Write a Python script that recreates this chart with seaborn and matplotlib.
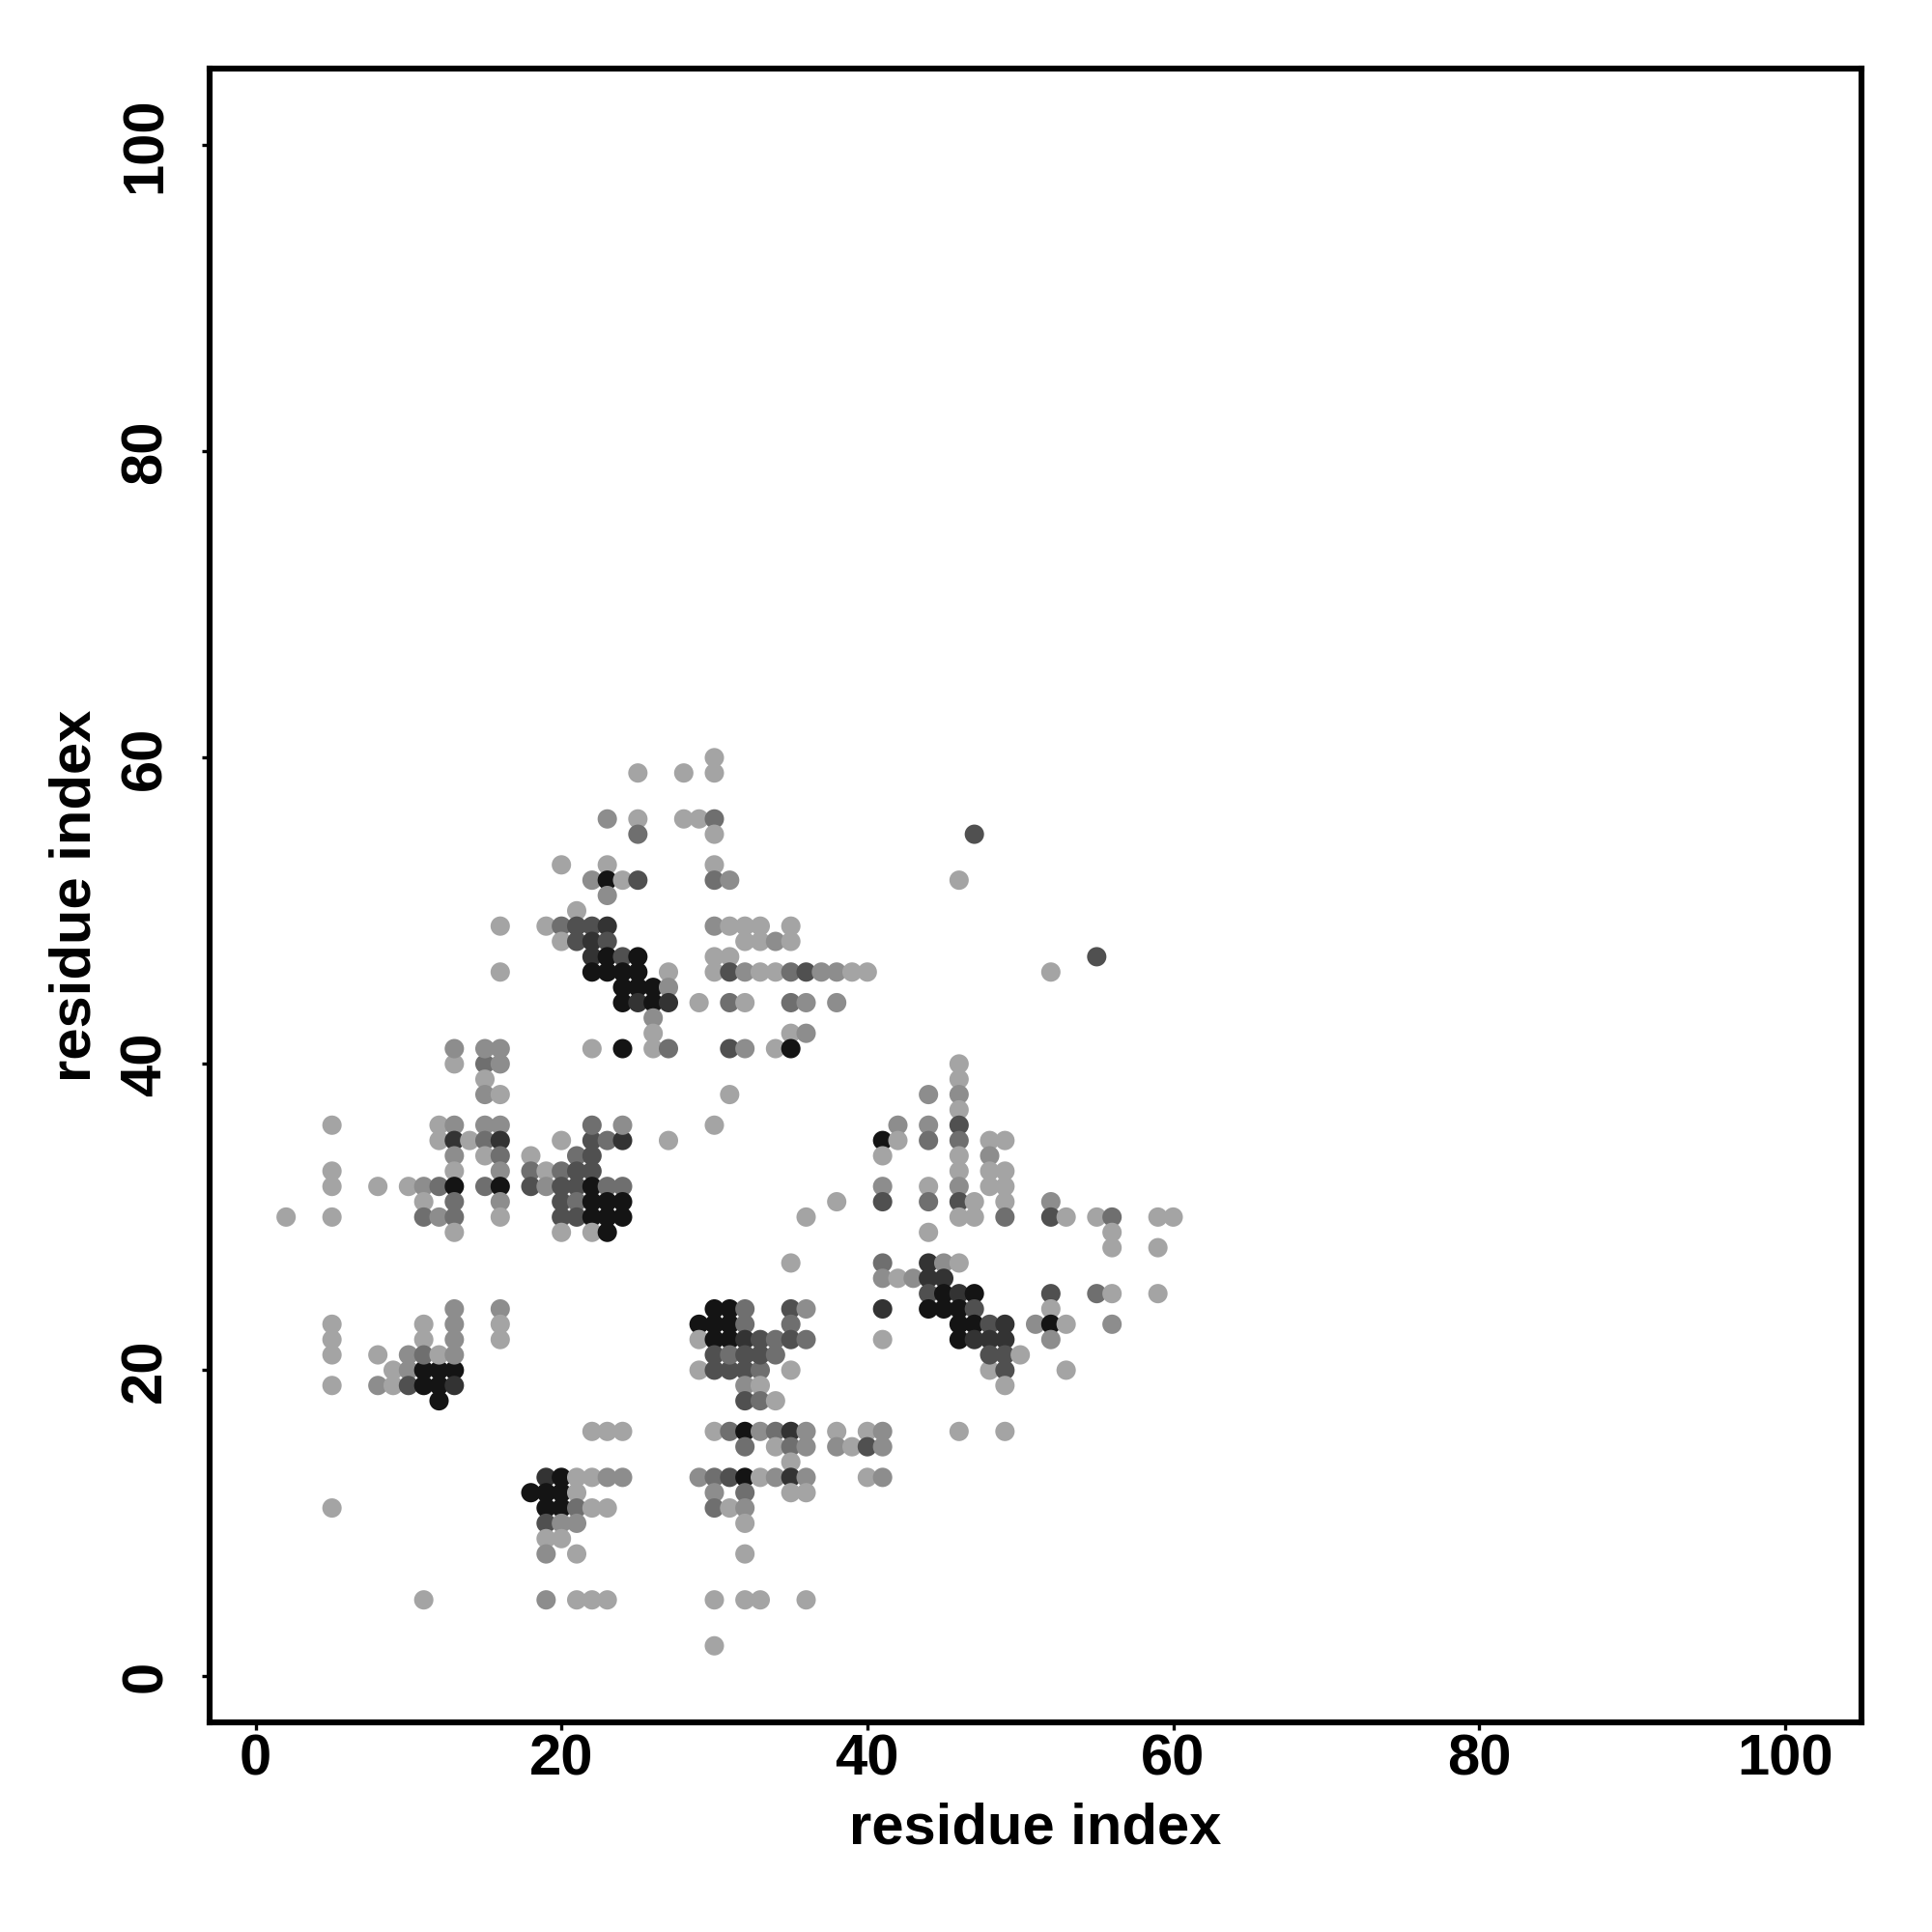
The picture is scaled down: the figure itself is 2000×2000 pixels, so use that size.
import matplotlib
matplotlib.use("Agg")
import matplotlib.pyplot as plt
import seaborn as sns
import pandas as pd

# residue i (x), residue j (y), contact strength level (1 = weak/light ... 6 = strong/black)
res_i = [
    9, 10, 11, 12, 13,
    5, 8, 9, 10, 11, 12, 13,
    12, 18, 5, 11,
    29, 30, 31, 32, 33, 35,
    32, 33,
    32, 33, 34,
    22, 23, 24, 30, 31, 32, 33, 34, 35, 36, 38,
    32, 34, 35, 36, 38, 39,
    35,
    19, 20, 21, 22, 23, 24, 29, 30, 31, 32, 33, 34, 35, 36,
    19, 20, 21, 30, 32, 35, 36,
    19, 20, 21, 22, 23, 30, 31, 32,
    19, 20, 21, 32,
    19, 20,
    19, 21, 32,
    19, 21, 22, 23, 30, 32, 33, 36,
    30,
    48, 49, 53, 49,
    40, 41, 46, 49,
    40, 41,
    40, 41,
    # y 21..40, x < 19
    13, 15, 16,
    15,
    15, 16,
    5, 12, 13, 15, 16,
    12, 13, 14, 15, 16,
    13, 15, 16, 18,
    5, 13, 16, 18,
    5, 8, 10, 11, 12, 13, 15, 16, 18,
    11, 13, 16,
    2, 5, 11, 12, 13, 16,
    13,
    13, 16,
    5, 11, 13, 16,
    5, 11, 13, 16,
    5, 8, 10, 11, 12, 13,
    # y 21..40, x 19..39
    20, 22, 23, 24, 27,
    22, 24, 30,
    31,
    21, 22,
    19, 20, 21, 22,
    19, 20, 21, 22, 23, 24,
    20, 21, 22, 23, 24, 38,
    20, 21, 22, 23, 24, 36,
    20, 22, 23,
    35,
    30, 31, 32, 35, 36,
    29, 30, 31, 32, 35,
    29, 30, 31, 32, 33, 34, 35, 36,
    30, 31, 32, 33, 34,
    # y 21..40, x >= 40
    46, 46,
    44, 46,
    46,
    42, 44, 46,
    41, 42, 44, 46, 48, 49,
    41, 46, 48,
    46, 48, 49,
    41, 44, 46, 48, 49,
    41, 44, 46, 47, 49, 52,
    46, 47, 49, 52, 53, 55, 56, 59, 60,
    44, 56,
    56, 59,
    41, 44, 45, 46,
    41, 42, 43, 44, 45,
    44, 45, 46, 47, 52, 55, 56, 59,
    41, 44, 45, 46, 47, 52,
    46, 47, 48, 49, 51, 52, 53, 56,
    41, 46, 47, 48, 49, 52,
    48, 49, 50,
    # y 41..60
    16, 16,
    13, 15, 16,
    30,
    25, 28, 30,
    23, 25, 28, 29, 30,
    25, 30,
    20, 23, 30,
    22, 23, 24, 25, 30, 31,
    23,
    21,
    19, 20, 21, 22, 23, 30, 31, 32, 33, 35,
    20, 21, 22, 23, 32, 33, 34, 35,
    22, 23, 24, 25, 30, 31,
    22, 23, 24, 25, 27, 30, 31, 32, 33, 34, 35, 36, 37, 38, 39, 40,
    24, 25, 26, 27,
    24, 25, 26, 27, 29, 31, 32, 35, 36, 38,
    26,
    26, 35, 36,
    22, 24, 26, 27, 31, 32, 34, 35,
    47, 46, 55, 52,
]

res_j = [
    20, 20, 20, 20, 20,
    19, 19, 19, 19, 19, 19, 19,
    18, 12, 11, 5,
    20, 20, 20, 20, 20, 20,
    19, 19,
    18, 18, 18,
    16, 16, 16, 16, 16, 16, 16, 16, 16, 16, 16,
    15, 15, 15, 15, 15, 15,
    14,
    13, 13, 13, 13, 13, 13, 13, 13, 13, 13, 13, 13, 13, 13,
    12, 12, 12, 12, 12, 12, 12,
    11, 11, 11, 11, 11, 11, 11, 11,
    10, 10, 10, 10,
    9, 9,
    8, 8, 8,
    5, 5, 5, 5, 5, 5, 5, 5,
    2,
    20, 20, 20, 19,
    16, 16, 16, 16,
    15, 15,
    13, 13,
    # y 21..40, x < 19
    40, 40, 40,
    39,
    38, 38,
    36, 36, 36, 36, 36,
    35, 35, 35, 35, 35,
    34, 34, 34, 34,
    33, 33, 33, 33,
    32, 32, 32, 32, 32, 32, 32, 32, 32,
    31, 31, 31,
    30, 30, 30, 30, 30, 30,
    29,
    24, 24,
    23, 23, 23, 23,
    22, 22, 22, 22,
    21, 21, 21, 21, 21, 21,
    # y 21..40, x 19..39
    35, 35, 35, 35, 35,
    36, 36, 36,
    38,
    34, 34,
    33, 33, 33, 33,
    32, 32, 32, 32, 32, 32,
    31, 31, 31, 31, 31, 31,
    30, 30, 30, 30, 30, 30,
    29, 29, 29,
    27,
    24, 24, 24, 24, 24,
    23, 23, 23, 23, 23,
    22, 22, 22, 22, 22, 22, 22, 22,
    21, 21, 21, 21, 21,
    # y 21..40, x >= 40
    40, 39,
    38, 38,
    37,
    36, 36, 36,
    35, 35, 35, 35, 35, 35,
    34, 34, 34,
    33, 33, 33,
    32, 32, 32, 32, 32,
    31, 31, 31, 31, 31, 31,
    30, 30, 30, 30, 30, 30, 30, 30, 30,
    29, 29,
    28, 28,
    27, 27, 27, 27,
    26, 26, 26, 26, 26,
    25, 25, 25, 25, 25, 25, 25, 25,
    24, 24, 24, 24, 24, 24,
    23, 23, 23, 23, 23, 23, 23, 23,
    22, 22, 22, 22, 22, 22,
    21, 21, 21,
    # y 41..60
    49, 46,
    41, 41, 41,
    60,
    59, 59, 59,
    56, 56, 56, 56, 56,
    55, 55,
    53, 53, 53,
    52, 52, 52, 52, 52, 52,
    51,
    50,
    49, 49, 49, 49, 49, 49, 49, 49, 49, 49,
    48, 48, 48, 48, 48, 48, 48, 48,
    47, 47, 47, 47, 47, 47,
    46, 46, 46, 46, 46, 46, 46, 46, 46, 46, 46, 46, 46, 46, 46, 46,
    45, 45, 45, 45,
    44, 44, 44, 44, 44, 44, 44, 44, 44, 44,
    43,
    42, 42, 42,
    41, 41, 41, 41, 41, 41, 41, 41,
    55, 52, 47, 46,
]

level = [
    1, 2, 6, 6, 6,
    1, 2, 1, 4, 6, 6, 5,
    6, 6, 1, 1,
    1, 4, 4, 4, 3, 1,
    2, 1,
    4, 3, 1,
    1, 1, 1, 1, 3, 6, 2, 3, 5, 2, 1,
    3, 1, 3, 2, 2, 1,
    1,
    5, 6, 1, 1, 2, 2, 2, 3, 4, 6, 1, 2, 5, 2,
    6, 6, 1, 2, 3, 1, 1,
    6, 6, 3, 1, 1, 3, 1, 2,
    4, 2, 2, 1,
    1, 1,
    2, 1, 1,
    2, 1, 1, 1, 1, 1, 1, 1,
    1,
    1, 4, 1, 1,
    1, 2, 1, 1,
    4, 2,
    1, 2,
    # y 21..40, x < 19
    1, 3, 2,
    1,
    2, 1,
    1, 1, 2, 2, 2,
    1, 5, 1, 3, 5,
    2, 1, 3, 1,
    1, 1, 2, 3,
    1, 1, 1, 2, 3, 6, 3, 6, 4,
    1, 3, 2,
    1, 1, 3, 2, 3, 1,
    1,
    2, 2,
    1, 1, 2, 1,
    1, 1, 2, 1,
    1, 1, 2, 3, 1, 2,
    # y 21..40, x 19..39
    1, 4, 3, 5, 1,
    3, 2, 1,
    1,
    3, 4,
    1, 3, 4, 4,
    2, 4, 4, 6, 3, 3,
    4, 3, 6, 6, 6, 1,
    4, 4, 6, 6, 6, 1,
    1, 1, 6,
    1,
    6, 6, 3, 4, 2,
    6, 6, 6, 3, 3,
    1, 6, 6, 5, 4, 3, 4, 3,
    4, 3, 4, 4, 3,
    # y 21..40, x >= 40
    1, 1,
    2, 2,
    1,
    2, 2, 4,
    6, 1, 3, 3, 1, 1,
    1, 1, 2,
    1, 1, 1,
    2, 1, 2, 1, 1,
    4, 3, 4, 1, 1, 2,
    1, 1, 3, 4, 1, 1, 3, 1, 1,
    1, 1,
    1, 1,
    3, 5, 2, 1,
    2, 1, 2, 5, 5,
    4, 6, 5, 6, 4, 3, 1, 1,
    5, 6, 6, 6, 4, 1,
    6, 6, 4, 5, 2, 6, 1, 2,
    1, 6, 5, 5, 5, 2,
    4, 4, 1,
    # y 41..60
    1, 1,
    2, 2, 2,
    1,
    1, 1, 1,
    2, 1, 1, 1, 3,
    3, 1,
    1, 1, 1,
    2, 6, 1, 4, 3, 2,
    2,
    1,
    1, 3, 4, 4, 5, 2, 1, 1, 1, 1,
    1, 4, 5, 4, 1, 1, 2, 1,
    5, 6, 4, 6, 1, 1,
    6, 6, 6, 6, 1, 1, 4, 2, 1, 1, 3, 4, 2, 2, 1, 1,
    6, 6, 6, 2,
    6, 5, 6, 5, 1, 3, 1, 3, 2, 2,
    2,
    1, 1, 2,
    1, 6, 1, 3, 4, 2, 1, 6,
    4, 1, 4, 1,
]

grey_levels = {1: "#a4a4a4", 2: "#8d8d8d", 3: "#6f6f6f", 4: "#505050", 5: "#333333", 6: "#141414"}

df = pd.DataFrame({"i": res_i, "j": res_j, "level": level})

sns.set_theme(style="white")
plt.rcParams["font.family"] = ["Liberation Sans", "DejaVu Sans"]
plt.rcParams["font.weight"] = "bold"
plt.rcParams["text.color"] = "black"
plt.rcParams["axes.labelcolor"] = "black"
plt.rcParams["xtick.color"] = "black"
plt.rcParams["ytick.color"] = "black"

fig = plt.figure(figsize=(10, 10), dpi=200)
ax = fig.add_axes([0.1085, 0.1085, 0.855, 0.856])

sns.scatterplot(data=df, x="i", y="j", hue="level", palette=grey_levels,
                s=52, linewidth=0, legend=False, ax=ax, zorder=3)

ax.set_xlim(-3, 105)
ax.set_ylim(-3, 105)
ticks = [0, 20, 40, 60, 80, 100]
ax.set_xticks(ticks)
ax.set_yticks(ticks)
ax.set_xticklabels([str(t) for t in ticks], fontsize=21.5, fontweight="bold")
ax.set_yticklabels([str(t) for t in ticks], fontsize=21.5, fontweight="bold",
                   rotation=90, va="center")
ax.tick_params(axis="both", direction="out", length=2.8, width=1.2,
               bottom=True, left=True, top=False, right=False)
ax.tick_params(axis="x", pad=1.5)
ax.tick_params(axis="y", pad=11)
for sp in ax.spines.values():
    sp.set_visible(True)
    sp.set_color("black")
    sp.set_linewidth(2.2)
ax.grid(False)

ax.set_xlabel("residue index", fontsize=21.5, fontweight="bold")
ax.set_ylabel("residue index", fontsize=21.5, fontweight="bold")
ax.xaxis.label.set_va("center")
ax.yaxis.label.set_va("center")
ax.xaxis.set_label_coords(0.5, -0.064)
ax.yaxis.set_label_coords(-0.081, 0.5)

fig.savefig("out.png", dpi=200, facecolor="white")
